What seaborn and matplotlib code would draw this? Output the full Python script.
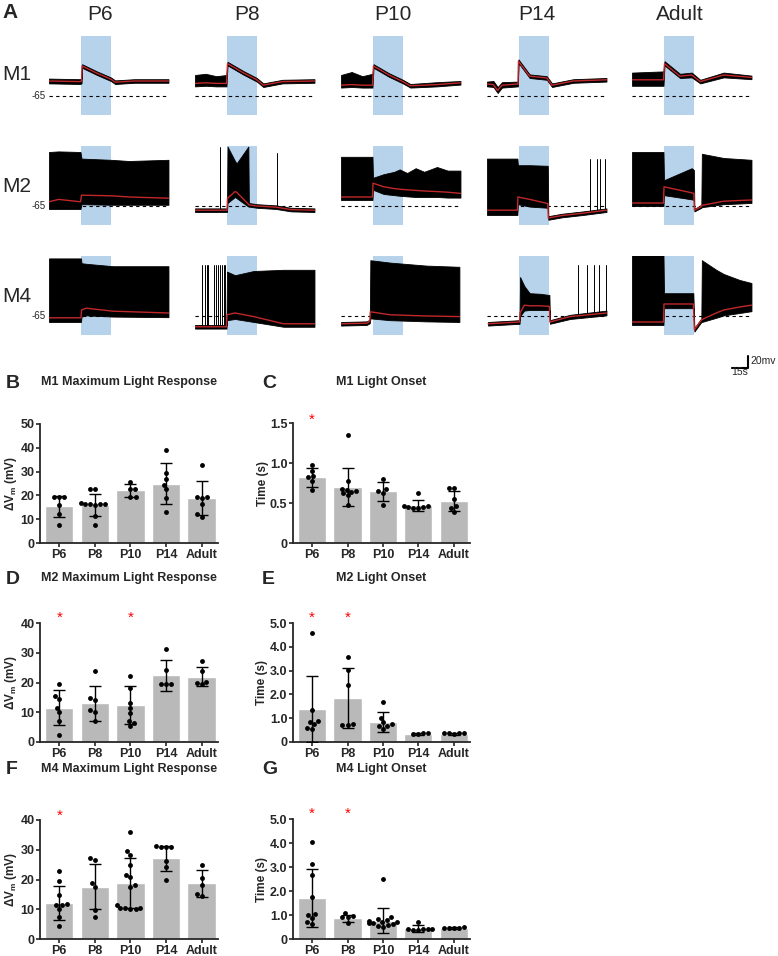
import warnings
import numpy as np
import pandas as pd
import matplotlib
matplotlib.use('Agg')
import matplotlib.pyplot as plt
import seaborn as sns

warnings.filterwarnings('ignore')

ages = ['P6', 'P8', 'P10', 'P14', 'Adult']
rows = ['M1', 'M2', 'M4']

# light pulse and trace window (s)
light_on, light_off = 30, 58
trace_len = 112.5

# ---------------- panel A: traces (t in s, mV) ----------------
m1_p6 = dict(t=[0, 29, 30.5, 31, 45, 58, 62, 80, 112],
             red=[-40, -41, -40, -15, -27, -37, -42, -40, -40],
             top=[-36, -37, -36, -12, -24, -34, -39, -37, -37],
             bot=[-44, -45, -44, -18, -30, -40, -45, -43, -43], spikes=[])
m1_p8 = dict(t=[0, 10, 20, 29.5, 30.5, 45, 58, 64, 82, 112],
             red=[-44, -43, -44, -44, -11, -26, -38, -47, -41, -40],
             top=[-30, -28, -32, -30, -8, -23, -35, -44, -38, -37],
             bot=[-49, -48, -49, -49, -14, -29, -41, -50, -44, -43], spikes=[])
m1_p10 = dict(t=[0, 10, 20, 29.5, 30.5, 45, 58, 65, 90, 112],
              red=[-47, -46, -47, -47, -15, -30, -41, -48, -46, -43],
              top=[-30, -25, -32, -28, -12, -27, -38, -45, -42, -40],
              bot=[-51, -50, -51, -51, -18, -33, -44, -51, -49, -46], spikes=[])
m1_p14 = dict(t=[0, 6, 10, 14, 29, 29.5, 40, 56, 61, 81, 112],
              red=[-45, -46, -56, -47, -45, -7, -32, -35, -47, -40, -38],
              top=[-41, -40, -50, -42, -41, -4, -29, -32, -44, -37, -35],
              bot=[-49, -50, -60, -51, -49, -10, -35, -38, -50, -43, -41], spikes=[])
m1_adult = dict(t=[0, 29.5, 30.5, 45, 56, 64, 86, 112],
                red=[-38, -38, -11, -32, -30, -41, -30, -34],
                top=[-26, -24, -7, -28, -26, -38, -26, -31],
                bot=[-48, -48, -14, -35, -34, -44, -34, -37], spikes=[])

m2_p6 = dict(t=[0, 9, 29.5, 30.5, 58, 75, 112],
             red=[-58, -54, -58, -47, -48, -50, -52],
             top=[25, 26, 25, 14, 12, 10, 12],
             bot=[-70, -70, -70, -62, -63, -63, -63], spikes=[])
m2_p8 = dict(t=[0, 20, 30, 30.5, 37.5, 39, 50, 50.5, 58, 76, 90, 112],
             red=[-72, -72, -72, -52, -41, -42, -62, -63, -65, -67, -71, -72],
             top=[-69, -69, -69, 34, 10, 6, 34, -60, -62, -64, -68, -69],
             bot=[-75, -75, -75, -60, -50, -52, -66, -66, -68, -70, -74, -75],
             spikes=[(23.4, 34), (76.6, 24)])
m2_p10 = dict(t=[0, 29.5, 30, 40, 50, 55, 62, 70, 78, 90, 100, 112],
              red=[-50, -50, -27, -33, -36, -37, -38, -39, -40, -41, -42, -44],
              top=[17, 17, -18, -12, -8, -4, -10, -2, -8, 0, -6, -6],
              bot=[-55, -55, -38, -45, -47, -48, -49, -50, -50, -50, -51, -51], spikes=[])
m2_p14 = dict(t=[0, 28.5, 29, 40, 57, 57.5, 70, 90, 112],
              red=[-72, -72, -50, -54, -61, -85, -81, -77, -72],
              top=[14, 14, 3, 3, 2, -82, -78, -74, -69],
              bot=[-80, -80, -62, -66, -68, -88, -84, -80, -75],
              spikes=[(96.6, 14), (102.8, 14), (106, 14), (110.6, 14)])
m2_adult = dict(t=[0, 29.5, 30, 56, 58, 58.5, 65, 65.5, 86, 112],
                red=[-60, -60, -33, -43, -44, -72, -66, -64, -57, -55],
                top=[25, 25, -22, -2, -5, -70, -63, 22, 15, 12],
                bot=[-65, -65, -47, -54, -55, -74, -68, -67, -62, -60], spikes=[])

m4_p6 = dict(t=[0, 30, 30.5, 35, 60, 112],
             red=[-68, -68, -55, -52, -57, -60],
             top=[31, 31, 23, 22, 18, 18],
             bot=[-75, -75, -66, -64, -66, -67], spikes=[])
m4_p8 = dict(t=[0, 29.5, 30, 37.5, 55, 83, 112],
             red=[-83, -83, -63, -60, -66, -78, -78],
             top=[-80, -80, 9, 3, 10, 12, 12],
             bot=[-86, -86, -72, -70, -75, -83, -83],
             spikes=[(7, 20), (9, 20), (11, 20), (12.5, 20), (17.5, 20), (19.5, 20),
                     (21.5, 20), (23, 20), (25, 20), (27, 20), (28.5, 20)])
m4_p10 = dict(t=[0, 24, 27, 27.5, 46, 80, 111],
              red=[-78, -77, -74, -58, -63, -65, -66],
              top=[-75, -74, -71, 28, 24, 19, 17],
              bot=[-81, -80, -77, -69, -72, -74, -75], spikes=[])
m4_p14 = dict(t=[1, 30.5, 31, 35, 40, 50, 58.5, 59, 78, 112],
              red=[-78, -75, -60, -47, -48, -48, -49, -75, -66, -60],
              top=[-75, -72, 0, -15, -27, -28, -30, -72, -63, -56],
              bot=[-81, -78, -65, -56, -55, -55, -55, -78, -70, -64],
              spikes=[(85, 20), (93.4, 20), (100.3, 20), (105.3, 20), (112, 20)])
m4_adult = dict(t=[0, 29.5, 30, 57.5, 58.5, 65, 65.5, 79, 86, 101, 112],
                red=[-75, -75, -45, -45, -88, -72, -71, -60, -55, -50, -47],
                top=[38, 38, -27, -27, -85, -69, 28, 12, 5, -5, -10],
                bot=[-80, -80, -52, -52, -91, -75, -75, -68, -64, -60, -57], spikes=[])

traces = [[m1_p6, m1_p8, m1_p10, m1_p14, m1_adult],
          [m2_p6, m2_p8, m2_p10, m2_p14, m2_adult],
          [m4_p6, m4_p8, m4_p10, m4_p14, m4_adult]]

# ---------------- panels B-G: bars (mean, SD) and individual cells ----------------
b_mean = [15.4, 16.1, 22.1, 24.9, 19.0]
b_sd = [4.5, 4.6, 2.7, 8.6, 7.1]
b_dots = {'P6': [19.2, 19.2, 19.2, 15.8, 12.0, 7.7],
          'P8': [22.8, 22.8, 16.8, 16.5, 16.5, 16.2, 16.2, 15.8, 11.5, 7.7],
          'P10': [25.8, 22.8, 22.5, 19.2, 19.2],
          'P14': [39.2, 29.4, 26.9, 24.5, 22.7, 18.9, 13.0],
          'Adult': [32.8, 19.2, 19.2, 19.0, 16.5, 12.0, 10.8]}

c_mean = [0.82, 0.70, 0.645, 0.47, 0.525]
c_sd = [0.12, 0.24, 0.12, 0.065, 0.125]
c_dots = {'P6': [0.98, 0.90, 0.84, 0.82, 0.78, 0.66],
          'P8': [1.35, 0.78, 0.68, 0.66, 0.65, 0.64, 0.62, 0.60, 0.48],
          'P10': [0.80, 0.67, 0.65, 0.62, 0.47],
          'P14': [0.62, 0.46, 0.45, 0.44, 0.45, 0.44, 0.46],
          'Adult': [0.69, 0.69, 0.55, 0.46, 0.44, 0.39]}

d_mean = [11.5, 13.0, 12.4, 22.5, 22.0]
d_sd = [5.9, 5.9, 6.3, 5.2, 3.3]
d_dots = {'P6': [19.4, 15.5, 14.6, 11.5, 10.0, 7.0, 2.5],
          'P8': [23.7, 14.8, 14.0, 10.7, 10.0, 7.1],
          'P10': [22.3, 18.3, 13.0, 11.3, 9.6, 7.0, 6.4, 5.4],
          'P14': [31.2, 24.2, 19.4, 19.4, 19.4],
          'Adult': [27.3, 23.9, 20.2, 19.8, 19.4]}

e_mean = [1.38, 1.85, 0.84, 0.34, 0.34]
e_sd = [1.40, 1.28, 0.40, 0.03, 0.03]
e_dots = {'P6': [4.57, 1.33, 0.88, 0.84, 0.74, 0.60, 0.55],
          'P8': [3.58, 3.01, 2.41, 0.74, 0.71, 0.70],
          'P10': [1.70, 1.00, 0.82, 0.75, 0.68, 0.66, 0.55],
          'P14': [0.37, 0.33, 0.35, 0.36],
          'Adult': [0.38, 0.37, 0.35, 0.37, 0.38]}

f_mean = [12.1, 17.6, 18.8, 27.1, 18.7]
f_sd = [5.6, 7.6, 8.5, 4.3, 4.5]
f_dots = {'P6': [22.7, 19.6, 14.9, 11.8, 11.5, 11.3, 10.1, 7.3, 4.5],
          'P8': [27.1, 26.7, 18.7, 17.4, 9.9, 7.5],
          'P10': [36.0, 29.5, 28.3, 25.0, 21.5, 20.9, 18.1, 17.4, 11.4, 10.5, 10.3, 10.3, 10.1, 10.0],
          'P14': [31.2, 31.0, 31.0, 30.8, 26.3, 24.3, 19.9],
          'Adult': [25.0, 20.5, 18.2, 15.0, 14.6]}

g_mean = [1.70, 0.87, 0.76, 0.44, 0.46]
g_sd = [1.20, 0.15, 0.52, 0.13, 0.03]
g_dots = {'P6': [4.05, 3.12, 2.65, 1.75, 1.05, 0.98, 0.88, 0.70, 0.62],
          'P8': [1.10, 0.95, 0.93, 0.92, 0.66],
          'P10': [2.48, 0.90, 0.85, 0.80, 0.75, 0.72, 0.70, 0.68, 0.65, 0.62, 0.60, 0.55, 0.52],
          'P14': [0.72, 0.42, 0.40, 0.39, 0.38, 0.40, 0.41],
          'Adult': [0.48, 0.46, 0.44, 0.47, 0.45]}

# significance stars (age, y)
c_stars = [('P6', 1.54)]
d_stars = [('P6', 41.7), ('P10', 41.7)]
e_stars = [('P6', 5.2), ('P8', 5.2)]
f_stars = [('P6', 41.4)]
g_stars = [('P6', 5.2), ('P8', 5.2)]

# ---------------- style ----------------
sns.set_style('ticks')
plt.rcParams['font.family'] = ['Liberation Sans', 'DejaVu Sans']
plt.rcParams['mathtext.fontset'] = 'custom'
plt.rcParams['mathtext.rm'] = 'Liberation Sans'
plt.rcParams['mathtext.bf'] = 'Liberation Sans:bold'

W, H = 778, 956
fig = plt.figure(figsize=(W / 100, H / 100), dpi=100)


def rect(x0, y0, x1, y1):
    return [x0 / W, 1 - y1 / H, (x1 - x0) / W, (y1 - y0) / H]


light_blue = '#b7d3ec'
trace_red = '#c0282a'

# ---------------- panel A ----------------
col_left = [49, 195, 341, 487, 632]
row_top = [36, 146, 256]
for r in range(3):
    for c in range(5):
        tr = traces[r][c]
        ax = fig.add_axes(rect(col_left[c], row_top[r], col_left[c] + 120, row_top[r] + 79))
        ax.axvspan(light_on, light_off, color=light_blue, lw=0, zorder=0)
        ax.axhline(-65, xmin=0, xmax=1, color='k', lw=0.8, ls=(0, (3, 3)), zorder=1)
        ax.fill_between(tr['t'], tr['bot'], tr['top'], color='k', lw=0.6, zorder=2)
        for ts, pk in tr['spikes']:
            base = np.interp(ts, tr['t'], tr['red'])
            ax.plot([ts, ts], [base, pk], color='k', lw=0.7, zorder=2)
        ax.plot(tr['t'], tr['red'], color=trace_red, lw=1.0, zorder=3)
        ax.set_xlim(0, trace_len)
        ax.set_ylim(-96.7, 35)
        ax.axis('off')
        if c == 0:
            ax.text(-3, -65, '-65', ha='right', va='center', fontsize=7)
        if r == 2 and c == 4:
            # scale bar: 15 s, 20 mV
            ax.plot([94, 109, 109], [-152, -152, -132], color='k', lw=1.5, clip_on=False)
            ax.text(111, -140, '20mv', fontsize=7.5, ha='left', va='center')
            ax.text(101, -159, '15s', fontsize=7.5, ha='center', va='center')

fig.text(2 / W, 1 - 13 / H, 'A', fontsize=15, fontweight='bold', va='center')
for x, a in zip([100, 247, 393, 537, 680], ages):
    fig.text(x / W, 1 - 15 / H, a, fontsize=15, ha='center', va='center')
for y, m in zip([75, 186, 296], rows):
    fig.text(2 / W, 1 - y / H, m, fontsize=15, ha='left', va='center')


# ---------------- panels B-G ----------------
def bar_panel(box, title, letter, letter_x, title_y, means, sds, dots, stars,
              ylim, yticks, yticklabels, ylabel):
    ax = fig.add_axes(rect(*box))
    sns.barplot(x=ages, y=means, color='#b9b9b9', saturation=1, width=0.8, ax=ax, zorder=1)
    ax.errorbar(range(5), means, yerr=sds, fmt='none', ecolor='k', elinewidth=1,
                capsize=4.5, capthick=1, zorder=3)
    df = pd.DataFrame([(a, v) for a in ages for v in dots[a]], columns=['age', 'val'])
    sns.swarmplot(data=df, x='age', y='val', order=ages, color='k', size=3.5, ax=ax, zorder=4)
    for a, y in stars:
        ax.text(ages.index(a), y, '*', color='red', ha='center', va='center',
                fontsize=11, clip_on=False)
    ax.set_xlim(-0.54, 4.46)
    ax.set_ylim(*ylim)
    ax.set_yticks(yticks)
    ax.set_yticklabels(yticklabels)
    ax.set_xlabel('')
    ax.set_ylabel(ylabel, fontsize=8.5, fontweight='bold', labelpad=1)
    sns.despine(ax=ax)
    for s in ['left', 'bottom']:
        ax.spines[s].set_linewidth(1.3)
    ax.tick_params(direction='out', length=3, width=1.2, labelsize=9, pad=1)
    for lab in ax.get_xticklabels() + ax.get_yticklabels():
        lab.set_fontweight('bold')
    cx = (box[0] + box[2]) / 2
    fig.text(cx / W, 1 - title_y / H, title, fontsize=9, fontweight='bold',
             ha='center', va='center')
    fig.text(letter_x / W, 1 - (title_y + 1) / H, letter, fontsize=14,
             fontweight='bold', va='center')
    return ax


dv_label = r'ΔV$_\mathbf{m}$ (mV)'
t_label = 'Time (s)'
onset_ticks = [0, 1, 2, 3, 4, 5]
onset_labels = ['0', '1.0', '2.0', '3.0', '4.0', '5.0']

bar_panel((40, 424, 218, 543), 'M1 Maximum Light Response', 'B', 6, 382,
          b_mean, b_sd, b_dots, [], (0, 50), [0, 10, 20, 30, 40, 50],
          ['0', '10', '20', '30', '40', '50'], dv_label)
bar_panel((293, 423, 470, 543), 'M1 Light Onset', 'C', 262, 382,
          c_mean, c_sd, c_dots, c_stars, (0, 1.5), [0, 0.5, 1.0, 1.5],
          ['0', '0.5', '1.0', '1.5'], t_label)
bar_panel((40, 623, 218, 742), 'M2 Maximum Light Response', 'D', 6, 578,
          d_mean, d_sd, d_dots, d_stars, (0, 40), [0, 10, 20, 30, 40],
          ['0', '10', '20', '30', '40'], dv_label)
bar_panel((293, 623, 470, 742), 'M2 Light Onset', 'E', 262, 578,
          e_mean, e_sd, e_dots, e_stars, (0, 5), onset_ticks, onset_labels, t_label)
bar_panel((40, 820, 218, 939), 'M4 Maximum Light Response', 'F', 6, 769,
          f_mean, f_sd, f_dots, f_stars, (0, 40), [0, 10, 20, 30, 40],
          ['0', '10', '20', '30', '40'], dv_label)
bar_panel((293, 819, 470, 939), 'M4 Light Onset', 'G', 262, 769,
          g_mean, g_sd, g_dots, g_stars, (0, 5), onset_ticks, onset_labels, t_label)

fig.savefig('out.png', dpi=100)
